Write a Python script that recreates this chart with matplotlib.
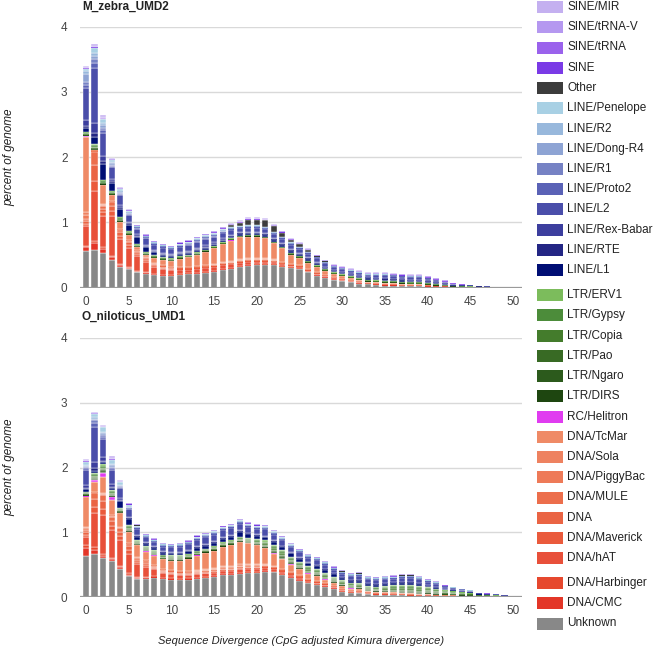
import numpy as np
import matplotlib.pyplot as plt
from matplotlib.patches import Rectangle

plt.rcParams['font.family'] = ['Liberation Sans', 'DejaVu Sans']

# ---------------------------------------------------------------
# data: percent of genome per 1% divergence bin, in thousandths
# ---------------------------------------------------------------
divergence = np.arange(51)

# stacking order, bottom -> top (legend shows it reversed)
stack_order = ['Unknown', 'DNA/CMC', 'DNA/Harbinger', 'DNA/hAT', 'DNA/Maverick', 'DNA',
               'DNA/MULE', 'DNA/PiggyBac', 'DNA/Sola', 'DNA/TcMar', 'RC/Helitron',
               'LTR/DIRS', 'LTR/Ngaro', 'LTR/Pao', 'LTR/Copia', 'LTR/Gypsy', 'LTR/ERV1',
               'LINE/L1', 'LINE/RTE', 'LINE/Rex-Babar', 'LINE/L2', 'LINE/Proto2', 'LINE/R1',
               'LINE/Dong-R4', 'LINE/R2', 'LINE/Penelope', 'Other',
               'SINE', 'SINE/tRNA', 'SINE/tRNA-V', 'SINE/MIR']

colors = {
    'SINE/MIR': '#c4b0f0', 'SINE/tRNA-V': '#b598f0', 'SINE/tRNA': '#9a62ec', 'SINE': '#7a3ae6',
    'Other': '#3c3c3c',
    'LINE/Penelope': '#a8d0e4', 'LINE/R2': '#98b8dc', 'LINE/Dong-R4': '#8ea4d4',
    'LINE/R1': '#7682c4', 'LINE/Proto2': '#5a62b6', 'LINE/L2': '#4a4eaa',
    'LINE/Rex-Babar': '#3c3e9e', 'LINE/RTE': '#232684', 'LINE/L1': '#000e74',
    'LTR/ERV1': '#7cbc5c', 'LTR/Gypsy': '#4c8c3a', 'LTR/Copia': '#447c2c',
    'LTR/Pao': '#386a24', 'LTR/Ngaro': '#2c5a1c', 'LTR/DIRS': '#1e4610',
    'RC/Helitron': '#e03cf0',
    'DNA/TcMar': '#ef8a66', 'DNA/Sola': '#ee8260', 'DNA/PiggyBac': '#ee7a58',
    'DNA/MULE': '#ec6e4c', 'DNA': '#ea6444', 'DNA/Maverick': '#ea5a3c',
    'DNA/hAT': '#e8503a', 'DNA/Harbinger': '#e6482e', 'DNA/CMC': '#e33628',
    'Unknown': '#888888',
}

# ---- M_zebra_UMD2 ----
zebra_unknown = [560,570,530,420,320,280,230,210,190,180, 170,190,200,210,220,240,270,290,310,330,
                 340,340,340,310,300,280,230,180,150,110, 100,80,60,50,40,30,30,25,20,20,
                 15,10,10,5,5,4,3,2,1,1, 1]
zebra_cmc = [60,110,60,40,20,15,12,10,10,8, 8,8,8,8,8,8,8,8,8,8, 8,8,6,6,5,5,4,4,4,4,
             3,3,3,2,2,2,2,2,2,2, 2,1,1,1,1,1,0,0,0,0, 0]
zebra_harbinger = [20,40,30,30,25,20,18,15,12,10, 10,10,8,8,8,8,8,8,8,8, 8,8,8,6,6,6,5,5,5,5,
                   4,4,4,3,3,3,3,2,2,2, 2,2,2,1,1,1,1,1,0,0, 0]
zebra_hat = [300,760,470,600,380,295,220,160,108,92, 80,64,56,56,56,56,56,49,49,49,
             42,42,36,31,25,25,20,20,20,20, 14,14,14,9,9,9,9,6,6,6, 6,4,4,1,1,1,1,1,1,1, 0]
zebra_maverick = [40,150,60,80,50,40,30,25,20,15, 12,10,10,10,10,10,10,9,9,9, 8,8,7,6,5,5,4,4,4,4,
                  3,3,3,2,2,2,2,2,2,2, 2,1,1,1,1,0,0,0,0,0, 0]
zebra_dna = [40,250,60,80,50,40,30,25,18,15, 12,10,10,10,10,10,10,9,9,9, 8,8,7,6,5,5,4,4,4,4,
             3,3,3,2,2,2,2,2,2,2, 2,1,1,1,1,1,0,0,0,0, 0]
zebra_mule = [30,200,40,60,35,30,20,15,12,10, 8,8,8,8,8,8,8,7,7,7, 6,6,6,5,4,4,3,3,3,3,
              3,3,3,2,2,2,2,1,1,1, 1,1,1,0,0,0,0,0,0,0, 0]
zebra_piggybac = [60,5,20,8,8,6,5,4,5,6, 6,8,8,10,10,12,12,14,15,15, 15,14,12,10,8,6,6,5,4,3,
                  3,2,2,2,2,2,2,2,1,1, 1,1,0,0,0,0,0,0,0,0, 0]
zebra_sola = [40,5,15,7,7,5,5,4,5,6, 6,8,8,10,10,12,12,14,15,15, 15,14,12,10,7,6,6,5,4,3,
              3,2,2,2,2,2,2,2,1,1, 1,1,0,0,0,0,0,0,0,0, 0]
zebra_tcmar = [1150,10,285,85,105,69,50,32,70,78, 88,124,144,170,210,236,266,312,340,330,
               330,312,246,210,135,108,98,80,52,44, 34,26,16,16,16,16,16,16,13,13,
               8,8,5,5,2,2,2,2,1,1, 0]
zebra_helitron = [20,5,5,5,2,2,1,1,1,1, 1,1,1,1,1,1,1,1,1,1, 1,1,1,1,1,1,1,1,1,1,
                  1,1,1,1,1,1,1,1,1,1, 0,0,0,0,0,0,0,0,0,0, 0]
zebra_dirs = [5,10,5,5,5,4,3,3,3,3, 3,3,3,3,2,2,2,2,2,2, 2,2,2,2,2,2,2,2,2,2,
              2,2,2,2,2,2,2,2,2,2, 2,1,1,1,0,0,0,0,0,0, 0]
zebra_ngaro = [5,15,10,10,10,8,5,5,5,5, 5,5,5,5,4,4,4,4,3,3, 3,3,3,3,4,4,4,4,4,4,
               4,4,4,4,4,4,4,4,4,4, 4,3,2,1,1,1,0,0,0,0, 0]
zebra_pao = [5,10,5,5,10,8,5,5,7,7, 7,5,5,5,4,4,4,4,3,3, 3,3,3,3,4,4,4,4,4,4,
             4,4,4,4,4,4,4,4,4,4, 4,3,2,1,1,1,0,0,0,0, 0]
zebra_copia = [10,15,10,10,15,10,7,7,10,10, 10,7,7,7,5,5,5,5,3,3, 3,3,3,3,5,5,5,5,5,5,
               5,5,5,5,5,5,5,5,5,5, 5,3,2,2,1,1,1,1,0,0, 0]
zebra_gypsy = [25,35,30,25,30,22,15,15,17,17, 17,14,14,14,11,11,11,11,7,7, 7,7,7,7,11,11,11,11,11,11,
               11,11,11,11,11,11,11,11,11,11, 11,7,6,4,4,2,1,1,1,1, 1]
zebra_erv1 = [10,15,10,10,10,8,5,5,8,8, 8,6,6,6,4,4,4,4,2,2, 2,2,2,2,4,4,4,4,4,4,
              4,4,4,4,4,4,4,4,4,4, 4,3,2,1,1,1,1,1,1,1, 0]
zebra_l1 = [70,100,250,120,120,100,120,80,40,30, 30,30,30,30,30,30,30,30,30,30,
            30,30,30,30,30,30,30,30,20,20, 20,20,20,20,20,20,20,20,20,20,
            20,20,15,10,8,6,5,4,2,2, 1]
zebra_rte = [30,60,40,30,30,20,15,15,15,15, 12,12,12,12,12,12,12,10,10,10, 10,10,10,10,10,8,8,8,7,6,
             6,5,5,5,6,6,6,6,6,6, 5,4,3,2,1,1,1,1,0,0, 0]
zebra_rexbabar = [80,150,80,40,40,25,20,20,18,18, 18,18,20,20,22,20,18,17,15,15,
                  15,15,15,16,16,14,14,13,12,10, 10,9,9,8,10,11,10,10,10,10,
                  8,7,5,3,2,2,2,1,1,1, 0]
zebra_l2 = [500,850,360,175,145,100,85,95,79,79, 72,82,88,96,103,87,81,75,60,60,
            60,60,60,67,67,58,58,55,49,43, 43,37,37,34,39,47,39,39,39,39,
            34,27,20,14,10,11,6,5,2,2, 2]
zebra_proto2 = [50,80,40,20,20,15,12,12,10,10, 10,10,12,12,13,12,11,10,8,8, 8,8,8,9,9,8,8,7,6,6,
                6,5,5,4,5,6,5,5,5,5, 4,4,3,2,1,1,1,1,0,0, 0]
zebra_r1 = [40,60,30,15,15,10,8,8,8,8, 8,8,8,10,10,9,8,8,7,7, 7,7,7,8,8,7,7,7,6,5,
            5,4,4,4,5,5,5,5,5,5, 4,3,2,2,1,1,1,0,0,0, 0]
zebra_dongr4 = [120,50,40,25,15,12,6,6,6,6, 6,10,10,10,10,10,14,7,7,7, 7,7,7,7,7,5,5,3,3,3,
                3,3,3,2,2,2,2,2,2,2, 2,2,1,1,1,1,0,0,0,0, 0]
zebra_r2 = [50,40,30,15,10,10,5,5,5,5, 5,8,8,8,8,8,10,5,5,5, 5,5,5,5,5,4,4,3,3,3,
            3,3,3,1,1,1,1,1,1,1, 1,1,1,1,1,1,1,1,0,0, 0]
zebra_penelope = [30,80,60,30,25,18,9,9,9,9, 9,12,12,12,12,12,16,8,8,8, 8,8,8,8,8,6,6,4,4,4,
                  4,4,4,2,2,2,2,2,2,2, 2,2,0,0,0,0,0,0,0,0, 0]
zebra_other = [2,2,2,2,2,2,2,2,2,2, 2,3,3,4,5,6,10,30,50,90, 90,100,90,60,40,40,20,10,10,3,
               2,2,2,1,1,1,1,1,1,1, 1,1,0,0,0,0,0,0,0,0, 0]
zebra_sine = [3,3,3,2,2,2,1,1,1,1, 1,1,1,1,1,1,1,2,3,3, 3,2,2,2,2,2,2,1,1,2,
              2,2,2,2,2,2,2,2,2,2, 1,1,1,1,0,0,0,0,0,0, 0]
zebra_trna = [7,10,12,6,6,6,4,4,4,4, 4,4,4,4,4,5,5,6,10,9, 9,8,6,6,6,6,6,4,4,6,
              6,6,6,6,6,6,6,6,6,6, 5,4,4,2,1,1,1,1,0,0, 0]
zebra_trnav = [15,17,20,10,10,10,7,7,7,7, 7,7,7,7,7,9,9,10,17,15, 15,14,10,10,10,10,10,7,7,10,
               10,10,10,10,10,10,10,10,10,10, 9,7,7,3,2,2,1,1,1,0, 0]
zebra_mir = [15,20,25,12,12,12,8,8,8,8, 8,8,8,8,8,10,10,12,20,18, 18,16,12,12,12,12,12,8,8,12,
             12,12,12,12,12,12,12,12,12,12, 10,8,8,4,2,2,1,1,1,1, 1]

# ---- O_niloticus_UMD1 ----
nile_unknown = [640,670,610,550,440,330,280,280,300,280, 270,260,270,280,290,310,340,340,360,370,
                370,390,380,340,300,250,210,185,160,130, 80,66,57,40,35,30,30,25,20,20,
                15,10,10,8,6,5,4,3,2,1, 1]
nile_cmc = [120,60,30,30,20,15,12,10,8,8, 8,8,8,8,8,8,8,8,8,8, 8,8,6,6,6,6,5,5,4,4,
            4,3,3,3,2,2,2,2,2,2, 2,2,1,1,1,1,0,0,0,0, 0]
nile_harbinger = [50,40,30,25,20,20,15,12,10,8, 8,8,8,8,8,8,8,8,8,8, 8,7,7,7,6,6,5,5,5,4,
                  4,3,3,3,3,3,2,2,2,2, 2,2,1,1,1,0,0,0,0,0, 0]
nile_hat = [120,520,590,425,400,305,198,168,107,79, 73,66,58,58,58,51,51,51,51,51,
            51,46,40,40,34,34,29,27,23,18, 18,15,15,13,11,11,8,8,8,5, 5,5,4,2,1,1,2,2,2,2, 1]
nile_maverick = [30,100,100,70,60,50,30,25,18,15, 14,13,12,12,12,11,11,11,11,11,
                 11,10,9,9,8,8,7,6,6,5, 5,4,4,4,3,3,3,3,3,2, 2,2,2,1,1,1,1,1,1,0, 0]
nile_dna = [40,120,120,80,70,60,40,35,22,18, 16,15,14,14,14,13,13,13,13,13,
            13,11,10,10,9,9,8,7,7,5, 5,5,4,4,3,3,3,3,3,2, 2,2,1,1,1,1,1,0,0,0, 0]
nile_mule = [30,90,90,60,50,40,25,20,15,12, 11,10,10,10,10,9,9,9,9,9, 9,8,8,8,7,7,6,5,5,4,
             4,4,4,3,3,3,2,2,2,2, 2,2,1,1,1,1,0,0,0,0, 0]
nile_piggybac = [30,10,20,15,15,10,12,9,10,10, 10,11,13,15,17,18,20,22,24,22, 20,17,13,10,8,7,6,5,4,3,
                 3,2,2,1,1,1,1,1,1,1, 1,1,1,1,0,0,0,0,0,0, 0]
nile_sola = [20,10,15,10,10,8,10,8,8,8, 8,9,10,12,14,15,17,18,20,18, 17,14,10,8,7,6,5,4,3,3,
             3,2,2,1,1,1,1,1,1,1, 1,1,1,1,1,0,0,0,0,0, 0]
nile_tcmar = [470,150,255,235,205,162,178,133,142,142, 142,160,187,223,249,267,293,320,346,320,
              293,249,187,152,115,97,79,71,53,44, 44,26,26,18,18,18,18,18,18,13,
              13,8,8,8,7,5,4,4,3,2, 1]
nile_helitron = [5,30,60,50,10,5,3,3,3,3, 3,3,3,3,3,3,3,3,3,3, 3,3,3,3,3,3,3,3,3,3,
                 3,2,2,2,2,2,2,2,2,2, 1,1,1,1,1,0,0,0,0,0, 0]
nile_dirs = [10,15,15,10,8,10,8,8,8,7, 8,8,7,7,6,7,7,7,8,8, 9,11,13,13,12,11,11,11,10,9,
             9,9,10,8,8,9,11,12,13,12, 10,9,7,6,5,4,2,2,2,1, 1]
nile_ngaro = [10,20,20,15,12,15,12,12,12,10, 12,12,10,10,9,10,10,10,12,12, 13,16,20,20,18,16,16,16,15,13,
              13,13,15,12,12,14,16,18,20,18, 15,14,10,10,7,7,3,3,3,2, 1]
nile_pao = [10,15,15,15,10,15,12,12,12,10, 12,12,10,10,9,10,10,10,12,12, 13,16,20,20,18,16,16,16,15,13,
            13,13,15,12,12,14,16,18,20,18, 15,14,10,10,7,7,3,3,3,2, 1]
nile_copia = [15,25,25,20,15,20,16,16,16,14, 16,16,14,14,12,14,14,14,16,16, 18,22,26,26,24,22,22,22,20,18,
              18,18,20,16,16,19,22,25,26,24, 21,19,14,13,10,9,5,4,3,2, 1]
nile_gypsy = [15,30,35,25,20,25,20,20,20,19, 20,20,19,19,15,19,19,19,20,20, 24,29,32,32,30,29,29,29,25,24,
              24,24,25,20,20,25,29,33,31,30, 28,25,19,16,13,11,7,5,3,2, 2]
nile_erv1 = [10,15,20,15,15,15,12,12,12,10, 12,12,10,10,9,10,10,10,12,12, 13,16,19,19,18,16,16,16,15,13,
             13,13,15,12,12,14,16,19,20,18, 16,14,10,10,8,7,3,3,3,1, 1]
nile_l1 = [40,30,30,30,100,100,50,40,40,30, 30,30,40,50,50,50,60,60,70,60,
           50,50,50,50,50,50,50,50,50,40, 30,30,30,30,30,30,30,30,30,30,
           20,20,20,10,10,10,8,7,5,5, 3]
nile_rte = [20,40,25,20,15,10,9,7,6,7, 7,8,8,9,10,10,10,10,10,8, 8,9,8,8,7,7,6,6,6,5,
            5,5,6,5,5,5,5,6,6,5, 5,4,3,3,2,2,1,1,1,0, 0]
nile_rexbabar = [40,100,50,40,30,20,17,13,12,13, 13,14,15,17,18,18,18,18,18,15,
                 15,17,15,14,13,13,12,12,11,10, 10,10,11,10,10,10,10,11,11,10,
                 9,7,5,5,4,3,2,2,1,1, 0]
nile_l2 = [235,535,290,225,155,117,96,76,69,76, 76,82,89,96,102,102,102,102,102,89,
           89,96,89,82,76,76,69,69,61,54, 54,54,61,54,54,54,54,61,61,54,
           51,41,31,27,24,16,10,8,6,5, 4]
nile_proto2 = [25,60,30,25,17,13,10,8,7,8, 8,9,10,10,11,11,11,11,11,10, 10,10,10,9,8,8,7,7,7,6,
               6,6,7,6,6,6,6,7,7,6, 6,4,3,3,3,2,1,1,1,0, 0]
nile_r1 = [20,45,25,20,13,10,8,6,6,6, 6,7,8,8,9,9,9,9,9,8, 8,8,8,7,6,6,6,6,5,5,
           5,5,5,5,5,5,5,5,5,5, 4,4,3,2,2,2,1,1,1,0, 0]
nile_dongr4 = [20,25,30,25,15,12,8,5,5,5, 5,5,5,8,8,8,8,8,8,8, 8,8,8,8,8,5,5,5,5,5,
               5,5,5,5,5,5,5,5,5,5, 4,4,3,3,2,2,1,1,1,1, 0]
nile_r2 = [15,20,25,20,12,10,6,4,4,4, 4,4,4,6,6,6,6,6,6,6, 6,6,6,6,6,4,4,4,4,4,
           4,4,4,4,4,4,4,4,4,4, 3,3,2,2,2,2,1,1,1,0, 0]
nile_penelope = [45,45,65,55,33,28,16,11,11,11, 11,11,11,16,16,16,16,16,16,16,
                 16,16,16,16,16,11,11,11,11,11, 11,11,11,11,11,11,11,11,11,11,
                 8,8,5,5,4,4,3,2,2,1, 2]
nile_other = [2,2,2,2,2,2,2,1,1,1, 1,1,1,1,1,1,1,1,1,1, 1,1,1,1,1,1,1,1,1,1,
              1,1,1,1,1,1,1,1,1,1, 1,0,0,0,0,0,0,0,0,0, 0]
nile_sine = [3,2,3,4,3,2,2,1,1,1, 1,1,1,1,1,1,1,1,1,1, 1,1,1,1,1,1,1,1,1,1,
             1,1,1,1,1,1,1,1,1,1, 1,1,1,1,0,0,0,0,0,0, 0]
nile_trna = [7,5,7,10,7,5,5,4,4,4, 4,4,4,4,4,4,4,4,4,4, 4,4,4,4,4,4,4,4,4,4,
             4,4,4,4,4,4,4,4,4,4, 4,3,2,2,1,1,1,1,0,0, 0]
nile_trnav = [15,11,15,22,15,11,11,7,7,7, 7,7,7,7,7,7,7,7,7,7, 7,7,7,7,7,7,7,7,7,7,
              7,7,7,7,7,7,7,7,7,7, 7,5,3,3,3,3,1,1,1,1, 0]
nile_mir = [15,12,15,24,15,12,12,8,8,8, 8,8,8,8,8,8,8,8,8,8, 8,8,8,8,8,8,8,8,8,8,
            8,8,8,8,8,8,8,8,8,8, 8,6,4,4,3,3,2,1,1,1, 1]

zebra_layers = [zebra_unknown, zebra_cmc, zebra_harbinger, zebra_hat, zebra_maverick, zebra_dna,
                zebra_mule, zebra_piggybac, zebra_sola, zebra_tcmar, zebra_helitron,
                zebra_dirs, zebra_ngaro, zebra_pao, zebra_copia, zebra_gypsy, zebra_erv1,
                zebra_l1, zebra_rte, zebra_rexbabar, zebra_l2, zebra_proto2, zebra_r1,
                zebra_dongr4, zebra_r2, zebra_penelope, zebra_other,
                zebra_sine, zebra_trna, zebra_trnav, zebra_mir]
nile_layers = [nile_unknown, nile_cmc, nile_harbinger, nile_hat, nile_maverick, nile_dna,
               nile_mule, nile_piggybac, nile_sola, nile_tcmar, nile_helitron,
               nile_dirs, nile_ngaro, nile_pao, nile_copia, nile_gypsy, nile_erv1,
               nile_l1, nile_rte, nile_rexbabar, nile_l2, nile_proto2, nile_r1,
               nile_dongr4, nile_r2, nile_penelope, nile_other,
               nile_sine, nile_trna, nile_trnav, nile_mir]

# ---------------------------------------------------------------
W, H = 661, 653
fig = plt.figure(figsize=(W / 100, H / 100), dpi=100)


def px(x, y):
    """pixel position (from top-left) -> figure fraction"""
    return x / W, 1 - y / H


def draw_panel(ax, layers, title, title_y):
    bottom = np.zeros(len(divergence))
    for name, vals in zip(stack_order, layers):
        v = np.array(vals) / 1000.0
        m = v > 0
        # white separator only where the segment is tall enough to show it
        lw = np.where(v[m] >= 0.012, 0.3, 0.0)
        ax.bar(divergence[m], v[m], bottom=bottom[m], width=0.72, color=colors[name],
               edgecolor='white', linewidth=lw, zorder=2)
        bottom += v
    ax.set_xlim(-0.70, 51.05)
    ax.set_ylim(0, 4)
    ax.set_yticks([0, 1, 2, 3, 4])
    ax.set_xticks(np.arange(0, 51, 5))
    ax.yaxis.grid(True, color='#d9d9d9', linewidth=1.0, zorder=0)
    ax.set_axisbelow(True)
    for s in ax.spines.values():
        s.set_visible(False)
    ax.axhline(0, color='#9a9a9a', linewidth=1.6, zorder=3)
    ax.tick_params(axis='both', length=0, labelsize=8.5, labelcolor='#444444')
    ax.tick_params(axis='y', pad=9)
    ax.tick_params(axis='x', pad=6)
    ax.patch.set_alpha(0)
    fx, fy = px(82, title_y)
    fig.text(fx, fy, title, fontsize=8.5, fontweight='bold', color='#222222', va='center', ha='left')
    box = ax.get_position()
    fig.text(px(9, 0)[0], box.y0 + box.height / 2, 'percent of genome', rotation=90,
             fontsize=8.5, style='italic', color='#222222', ha='center', va='center')


# panels (positions taken from pixel layout)
l, r = 80 / W, 522 / W
ax_top = fig.add_axes([l, 1 - 287.5 / H, r - l, 261 / H])
ax_bot = fig.add_axes([l, 1 - 597 / H, r - l, 259 / H])
draw_panel(ax_top, zebra_layers, 'M_zebra_UMD2', 7)
draw_panel(ax_bot, nile_layers, 'O_niloticus_UMD1', 317)

fig.text(301 / W, 1 - 641 / H, 'Sequence Divergence (CpG adjusted Kimura divergence)',
         fontsize=8, style='italic', color='#222222', ha='center', va='center')

# legend (top-most layer first), with small gaps after LINE/L1 and DNA/hAT
legend_order = stack_order[::-1]
y = 7.0
for i, name in enumerate(legend_order):
    if name in ('LTR/ERV1', 'DNA/Harbinger'):
        y += 4.5
    bx, by = px(537, y + 6)
    fig.add_artist(Rectangle((bx, by), 26 / W, 12 / H, transform=fig.transFigure,
                             facecolor=colors[name], edgecolor='none'))
    tx, ty = px(567, y)
    fig.text(tx, ty, name, fontsize=8.5, color='#222222', ha='left', va='center')
    y += 20.25

fig.savefig('out.png', dpi=100)
